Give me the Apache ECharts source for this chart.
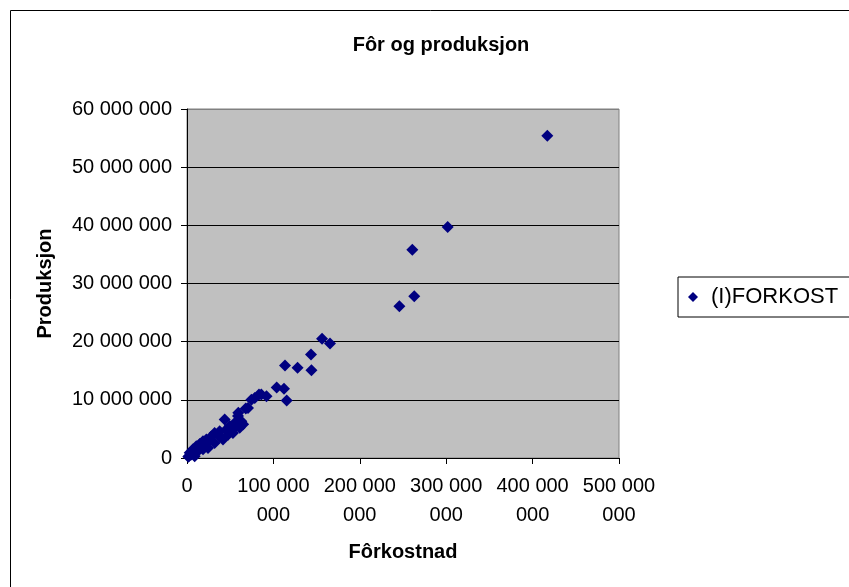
<!DOCTYPE html>
<html>
<head>
<meta charset="utf-8">
<script src="https://cdn.jsdelivr.net/npm/echarts@6/dist/echarts.min.js"></script>
<style>
  html, body { margin: 0; padding: 0; background: #fff; }
  #chart { width: 849px; height: 587px; }
</style>
</head>
<body>
<div id="chart"></div>
<script>
// ---- Data ----
const chartTitle = 'Fôr og produksjon';
const seriesName = '(I)FORKOST';
const xAxisTitle = 'Fôrkostnad';
const yAxisTitle = 'Produksjon';

// Fôrkostnad (x) values
const forkostnad = [
  417e6, 301.7e6, 260.8e6, 263e6, 245.8e6, 156.3e6, 165.5e6, 143.5e6, 113.4e6, 128e6,
  144e6, 103.8e6, 112.3e6, 115.4e6, 92e6, 86e6, 83.3e6, 78.4e6, 74.5e6, 70.6e6,
  68e6, 59.4e6, 59e6, 62.9e6, 55.2e6, 49.4e6, 43.6e6, 37.8e6, 32e6, 28.1e6,
  22.4e6, 18.5e6, 14.7e6, 10.8e6, 7e6, 3.1e6, 12.7e6, 5e6, 8.9e6, 18.5e6,
  24.3e6, 32e6, 41.7e6, 37.8e6, 47.5e6, 53.2e6, 61e6, 65e6, 56e6, 45e6,
  26e6, 20e6, 15e6, 2e6, 6e6, 10e6, 1.5e6
];
// Produksjon (y) values
const produksjon = [
  55.4e6, 39.7e6, 35.8e6, 27.8e6, 26.1e6, 20.5e6, 19.7e6, 17.8e6, 15.9e6, 15.5e6,
  15.1e6, 12.1e6, 11.9e6, 9.9e6, 10.6e6, 10.9e6, 10.9e6, 10.3e6, 10.0e6, 8.6e6,
  8.5e6, 7.8e6, 7.2e6, 6.3e6, 6.0e6, 5.5e6, 6.6e6, 4.6e6, 4.3e6, 3.7e6,
  3.2e6, 2.9e6, 2.4e6, 2.0e6, 1.5e6, 0.9e6, 1.2e6, 0.6e6, 0.3e6, 1.5e6,
  1.7e6, 2.6e6, 3.2e6, 3.7e6, 4.0e6, 4.3e6, 5.2e6, 5.8e6, 5.3e6, 4.8e6,
  3.0e6, 2.2e6, 1.8e6, 0.3e6, 0.9e6, 1.0e6, 0.2e6
];

// Axis scales
const xMin = 0, xMax = 500e6, xStep = 100e6;
const yMin = 0, yMax = 60e6, yStep = 10e6;

// ---- Helpers ----
function spaced(v) {
  return String(Math.round(v)).replace(/\B(?=(\d{3})+(?!\d))/g, ' ');
}
function wrappedX(v) {
  const s = spaced(v);
  if (s.length <= 7) return s;
  const i = s.lastIndexOf(' ');
  return s.slice(0, i) + '\n' + s.slice(i + 1);
}

const points = forkostnad.map((x, i) => [x, produksjon[i]]);
const FONT = '"Liberation Sans", Arial, sans-serif';

const chart = echarts.init(document.getElementById('chart'), null, { renderer: 'canvas' });
chart.setOption({
  backgroundColor: '#ffffff',
  animation: false,
  textStyle: { fontFamily: FONT, color: '#000' },
  title: {
    text: chartTitle,
    left: 436,
    textAlign: 'center',
    top: 30,
    textStyle: { fontFamily: FONT, fontSize: 20, fontWeight: 'bold', color: '#000' }
  },
  graphic: [{
    type: 'rect',
    silent: true,
    z: -10,
    shape: { x: 10.5, y: 10.5, width: 1200, height: 1200 },
    style: { fill: 'none', stroke: '#000', lineWidth: 1 }
  }],
  legend: {
    left: 678,
    top: 277,
    orient: 'horizontal',
    borderColor: '#000',
    borderWidth: 1,
    backgroundColor: '#fff',
    padding: [9, 40, 9, 10],
    itemWidth: 10,
    itemHeight: 10,
    icon: 'diamond',
    textStyle: { fontFamily: FONT, fontSize: 22, color: '#000', padding: [0, 0, 0, 8] },
    data: [seriesName]
  },
  grid: {
    left: 187,
    right: 230,
    top: 109,
    bottom: 129,
    show: true,
    backgroundColor: '#c0c0c0',
    borderColor: '#808080',
    borderWidth: 1
  },
  xAxis: {
    type: 'value',
    min: xMin, max: xMax, interval: xStep,
    name: xAxisTitle,
    nameLocation: 'middle',
    nameGap: 84,
    nameTextStyle: { fontFamily: FONT, fontSize: 20, fontWeight: 'bold', color: '#000' },
    axisLine: { show: true, onZero: false, lineStyle: { color: '#000', width: 1 } },
    axisTick: { show: true, inside: false, length: 6, lineStyle: { color: '#000' } },
    splitLine: { show: false },
    axisLabel: {
      formatter: wrappedX,
      fontFamily: FONT, fontSize: 20, color: '#000',
      lineHeight: 29, margin: 14,
      showMaxLabel: true, showMinLabel: true
    }
  },
  yAxis: {
    type: 'value',
    min: yMin, max: yMax, interval: yStep,
    name: yAxisTitle,
    nameLocation: 'middle',
    nameGap: 132,
    nameTextStyle: { fontFamily: FONT, fontSize: 20, fontWeight: 'bold', color: '#000' },
    axisLine: { show: true, onZero: false, lineStyle: { color: '#000', width: 1 } },
    axisTick: { show: true, inside: false, length: 6, lineStyle: { color: '#000' } },
    splitLine: { show: true, lineStyle: { color: ['#000', '#000', '#000', '#000', '#000', '#000', '#808080'], width: 1 } },
    axisLabel: {
      formatter: spaced,
      fontFamily: FONT, fontSize: 20, color: '#000',
      margin: 15
    }
  },
  series: [{
    name: seriesName,
    type: 'scatter',
    symbol: 'diamond',
    symbolSize: 12,
    itemStyle: { color: '#000080', opacity: 1 },
    data: points
  }]
});
</script>
</body>
</html>
